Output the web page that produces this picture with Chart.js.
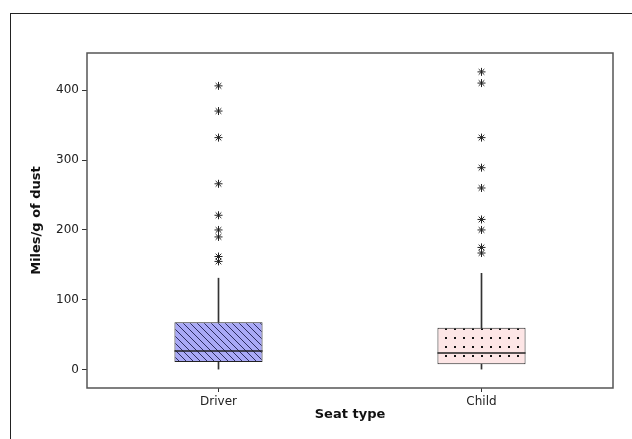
<!DOCTYPE html>
<html>
<head>
<meta charset="utf-8">
<script src="https://cdn.jsdelivr.net/npm/chart.js@4.4.0/dist/chart.umd.min.js"></script>
<style>
html,body{margin:0;padding:0;background:#fff;overflow:hidden}
#moldura{position:absolute;left:10px;top:13px;width:700px;height:500px;border-left:1px solid #222;border-top:1px solid #222}
#caixa{position:absolute;left:0;top:0;width:632px;height:439px}
</style>
</head>
<body>
<div id="moldura"></div>
<div id="caixa"><canvas id="grafico" width="632" height="439"></canvas></div>
<script>
let grupos = ["Driver","Child"]

let minimos = [1,1]
let quartil1 = [11,8]
let medianas = [27,24]
let quartil3 = [68,60]
let maximos = [131,138]

let outDriver = [406,370,332,266,221,200,190,162,155]
let outChild = [426,410,332,289,260,215,200,175,167]

let ticksY = [0,100,200,300,400]


function padraoListras(){
let c = document.createElement("canvas")
c.width = 7
c.height = 7
let g = c.getContext("2d")
g.fillStyle = "#a9a9f6"
g.fillRect(0,0,7,7)
g.strokeStyle = "#2c2c60"
g.lineWidth = 1
g.beginPath()
g.moveTo(0,0); g.lineTo(7,7)
g.moveTo(-1,6); g.lineTo(1,8)
g.moveTo(6,-1); g.lineTo(8,1)
g.stroke()
return g.createPattern(c,"repeat")
}

function padraoPontos(){
let c = document.createElement("canvas")
c.width = 9
c.height = 9
let g = c.getContext("2d")
g.fillStyle = "#fde6e6"
g.fillRect(0,0,9,9)
g.fillStyle = "#111"
g.fillRect(4,4,2,2)
return g.createPattern(c,"repeat")
}


// linha da mediana + borda do grafico
let extras = {
id:"extras",
afterDatasetsDraw(chart){
let ctx = chart.ctx
let y = chart.scales.y
let barras = chart.getDatasetMeta(0).data
ctx.save()
ctx.strokeStyle = "#222"
ctx.lineWidth = 1.5
barras.forEach((b,i)=>{
let py = y.getPixelForValue(medianas[i])
ctx.beginPath()
ctx.moveTo(b.x - b.width/2, py)
ctx.lineTo(b.x + b.width/2, py)
ctx.stroke()
})
let a = chart.chartArea
ctx.strokeStyle = "#555"
ctx.lineWidth = 1.5
ctx.strokeRect(a.left, a.top, a.right - a.left, a.bottom - a.top)
ctx.restore()
}
}


let pontosFora = []
outDriver.forEach(v => pontosFora.push({x:"Driver", y:v}))
outChild.forEach(v => pontosFora.push({x:"Child", y:v}))

let fonteTick = {family:"DejaVu Sans", size:12}

new Chart(document.getElementById("grafico"),{

type:"bar",

data:{
labels:grupos,
datasets:[
{
label:"caixa",
data:quartil1.map((v,i)=>[v,quartil3[i]]),
backgroundColor:[padraoListras(),padraoPontos()],
borderColor:"#222",
borderWidth:1,
borderSkipped:false,
barPercentage:0.335,
categoryPercentage:1,
grouped:false,
order:1
},
{
label:"bigode sup",
data:quartil3.map((v,i)=>[v,maximos[i]]),
backgroundColor:"#333",
barThickness:1,
grouped:false,
order:2
},
{
label:"bigode inf",
data:minimos.map((v,i)=>[v,quartil1[i]]),
backgroundColor:"#333",
barThickness:1,
grouped:false,
order:2
},
{
type:"line",
label:"outliers",
data:pontosFora,
showLine:false,
pointStyle:"star",
pointRadius:4,
borderColor:"#222",
borderWidth:1,
order:0
}
]
},

options:{
responsive:false,
animation:false,
devicePixelRatio:1,
layout:{padding:{left:0,top:53,right:19,bottom:0}},
plugins:{
legend:{display:false},
tooltip:{enabled:false}
},
scales:{
x:{
offset:true,
grid:{display:true,offset:false,drawOnChartArea:false,drawTicks:true,tickLength:4,color:"#333"},
border:{display:false},
ticks:{font:fonteTick,color:"#222",padding:3},
title:{display:true,text:"Seat type",color:"#111",font:{family:"DejaVu Sans",size:13,weight:"bold"},padding:{top:0,bottom:17}},
afterFit(s){ s.height = 51 }
},
y:{
min:-26,
max:453,
grid:{display:true,drawOnChartArea:false,drawTicks:true,tickLength:5,color:"#333"},
border:{display:false},
ticks:{font:fonteTick,color:"#222",padding:3},
afterBuildTicks(s){ s.ticks = ticksY.map(v=>({value:v})) },
title:{display:true,text:"Miles/g of dust",color:"#111",font:{family:"DejaVu Sans",size:13,weight:"bold"},padding:{top:29,bottom:0}},
afterFit(s){ s.width = 87 }
}
}
},

plugins:[extras]

})
</script>
</body>
</html>
